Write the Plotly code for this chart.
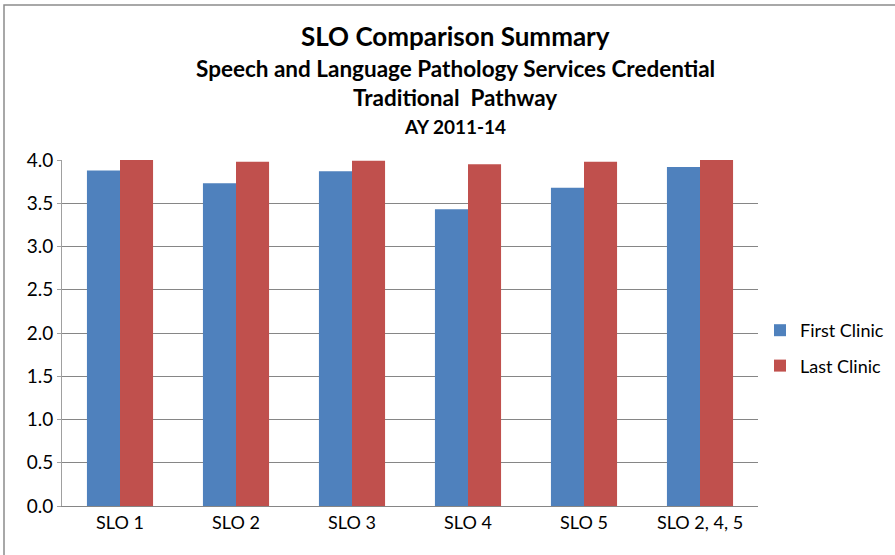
import plotly.graph_objects as go

categories = ["SLO 1", "SLO 2", "SLO 3", "SLO 4", "SLO 5", "SLO 2, 4, 5"]
first_clinic = [3.88, 3.73, 3.87, 3.43, 3.68, 3.92]
last_clinic = [4.00, 3.98, 3.99, 3.95, 3.98, 4.00]
y_ticks = [0.0, 0.5, 1.0, 1.5, 2.0, 2.5, 3.0, 3.5, 4.0]

FONT = "Lato"

fig = go.Figure()
fig.add_trace(go.Bar(x=categories, y=first_clinic, name="First Clinic", legendgroup="first",
                     marker=dict(color="#4F81BD", line=dict(width=0))))
fig.add_trace(go.Bar(x=categories, y=last_clinic, name="Last Clinic", legendgroup="last",
                     marker=dict(color="#C0504D", line=dict(width=0))))

titles = [
    ("SLO Comparison Summary", 26, 36),
    ("Speech and Language Pathology Services Credential", 22.5, 68),
    ("Traditional  Pathway", 22.5, 98),
    ("AY 2011-14", 19, 126),
]
for text, size, ypix in titles:
    fig.add_annotation(text="<b>" + text + "</b>", xref="paper", yref="paper",
                       x=(455 - 62) / 696, y=1 + (160 - ypix) / 346,
                       showarrow=False, xanchor="center", yanchor="middle",
                       font=dict(family=FONT, size=size, color="black"))

# outer border of the chart (only top and left edges are visible)
fig.add_shape(type="rect", xref="paper", yref="paper",
              x0=(4 - 62) / 696, x1=2.0,
              y0=-1.0, y1=1 + (160 - 5) / 346,
              line=dict(color="#8c8c8c", width=1.5))

fig.update_layout(
    width=895, height=555,
    margin=dict(l=62, r=137, t=160, b=49, autoexpand=False),
    paper_bgcolor="white", plot_bgcolor="white",
    barmode="group", bargap=0.43, bargroupgap=0,
    font=dict(family=FONT, color="black"),
    legend=dict(xref="container", yref="container", x=760 / 895, y=1 - 348 / 555,
                xanchor="left", yanchor="middle",
                font=dict(size=18), itemwidth=30, tracegroupgap=9),
    showlegend=True,
)
fig.update_xaxes(showline=True, linecolor="#868686", tickfont=dict(size=18),
                 ticks="", showgrid=False)
fig.update_yaxes(range=[0, 4.0], tickvals=y_ticks, tickformat=".1f",
                 showgrid=True, gridcolor="#868686", gridwidth=1,
                 showline=True, linecolor="#a0a0a0", tickfont=dict(size=19),
                 ticks="outside", ticklen=4, tickcolor="#a0a0a0", zeroline=False)

fig.write_html("out.html", config={"displayModeBar": False},
               post_script="document.body.style.margin='0px';")
